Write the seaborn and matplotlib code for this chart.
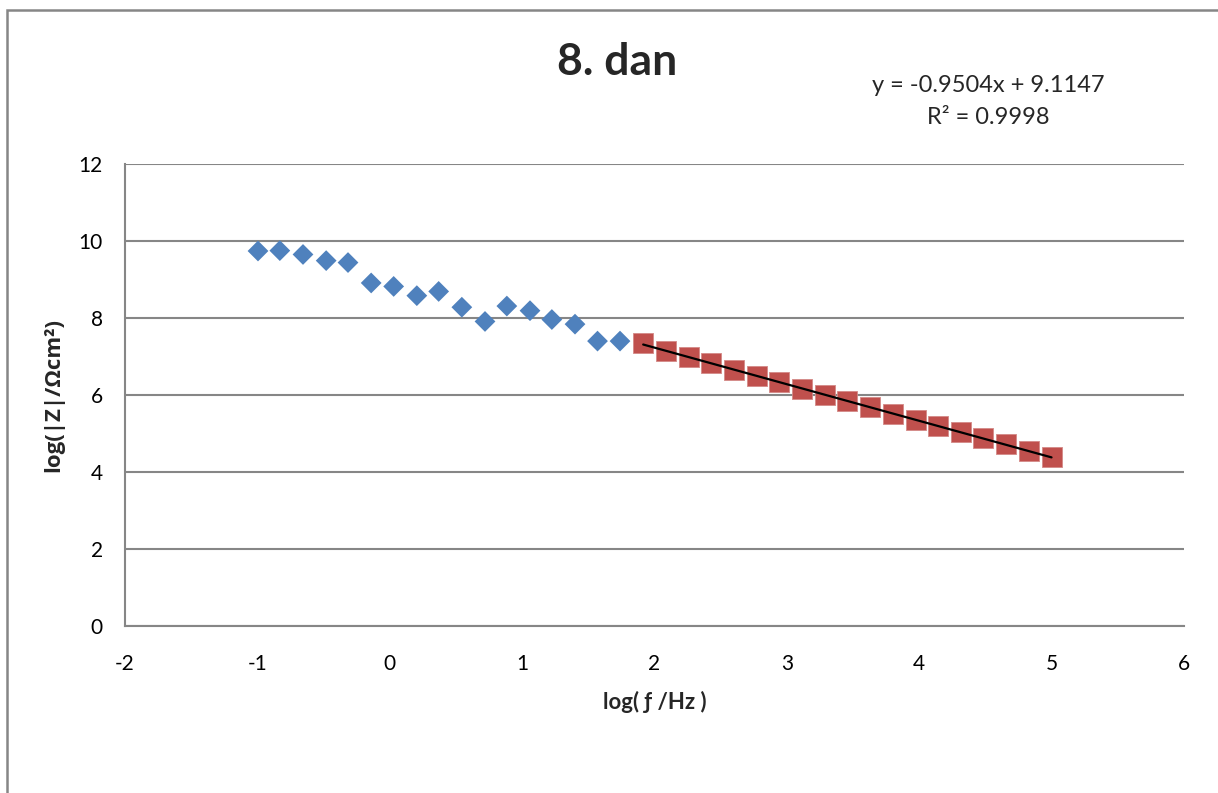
# Impedance chart, log|Z| vs log f
import pandas as pd
import matplotlib.pyplot as plt
import seaborn as sns
from matplotlib.patches import Rectangle

# Values
blue_x = [-0.995, -0.83, -0.655, -0.48, -0.315, -0.14, 0.03, 0.205, 0.37, 0.545,
          0.72, 0.885, 1.06, 1.225, 1.40, 1.57, 1.74]
blue_y = [9.74, 9.75, 9.65, 9.49, 9.44, 8.91, 8.82, 8.58, 8.69, 8.28,
          7.91, 8.31, 8.19, 7.96, 7.84, 7.40, 7.40]

red_x = [1.915, 2.087, 2.258, 2.429, 2.60, 2.772, 2.943, 3.114, 3.286, 3.457,
         3.628, 3.804, 3.975, 4.142, 4.313, 4.484, 4.655, 4.827, 5.0]
red_y = [7.36, 7.14, 6.98, 6.82, 6.66, 6.49, 6.33, 6.16, 6.00, 5.84,
         5.68, 5.50, 5.34, 5.19, 5.03, 4.875, 4.72, 4.55, 4.40]

title = "8. dan"
eq_line1 = "y = -0.9504x + 9.1147"
eq_line2 = "R² = 0.9998"
x_ticks = [-2, -1, 0, 1, 2, 3, 4, 5, 6]
y_ticks = [0, 2, 4, 6, 8, 10, 12]

blue_df = pd.DataFrame({"logf": blue_x, "logZ": blue_y})
red_df = pd.DataFrame({"logf": red_x, "logZ": red_y})

sns.set_style("white")
plt.rcParams["font.family"] = ["Lato", "DejaVu Sans"]
plt.rcParams["axes.unicode_minus"] = False

gray = "#868686"
fig = plt.figure(figsize=(12.18, 7.93), dpi=100)
ax = fig.add_axes([0.1026, 0.2106, 0.972 - 0.1026, 0.7932 - 0.2106])

sns.scatterplot(data=blue_df, x="logf", y="logZ", marker="D", s=112,
                color="#4F81BD", edgecolor="none", ax=ax, zorder=3)
sns.scatterplot(data=red_df, x="logf", y="logZ", marker="s", s=210,
                color="#C0504D", edgecolor="#D48A88", linewidth=0.6, ax=ax, zorder=3)
sns.regplot(data=red_df, x="logf", y="logZ", scatter=False, ci=None, truncate=True,
            line_kws={"color": "black", "lw": 1.6, "zorder": 4}, ax=ax)

ax.set_xlim(-2, 6)
ax.set_ylim(0, 12)
ax.set_xticks(x_ticks)
ax.set_yticks(y_ticks)
ax.tick_params(length=0, labelsize=15, colors="black")
ax.tick_params(axis="x", pad=20)
ax.tick_params(axis="y", pad=16)
ax.yaxis.grid(True, color=gray, lw=1.5)
ax.set_axisbelow(True)
for side in ["top", "right"]:
    ax.spines[side].set_visible(False)
for side in ["left", "bottom"]:
    ax.spines[side].set_color(gray)
    ax.spines[side].set_linewidth(1.5)

ax.set_xlabel("log( ƒ /Hz )", fontsize=16, fontweight="bold", labelpad=12)
ax.set_ylabel("log(|Z|/Ωcm²)", fontsize=16, fontweight="bold", labelpad=10,
              family=["Open Sans", "DejaVu Sans"])

fig.text(617 / 1218, 1 - 62 / 793, title, ha="center", va="center",
         fontsize=32, fontweight="bold")
fig.text(988 / 1218, 1 - 86 / 793, eq_line1, ha="center", va="center", fontsize=17)
fig.text(988 / 1218, 1 - 118 / 793, eq_line2, ha="center", va="center", fontsize=17)

# outer chart border
fig.add_artist(Rectangle((7 / 1218, -0.1), 1.2, 0.1 + 1 - 10 / 793,
                         transform=fig.transFigure, fill=False,
                         edgecolor=gray, lw=1.8))

fig.savefig("out.png", dpi=100)
